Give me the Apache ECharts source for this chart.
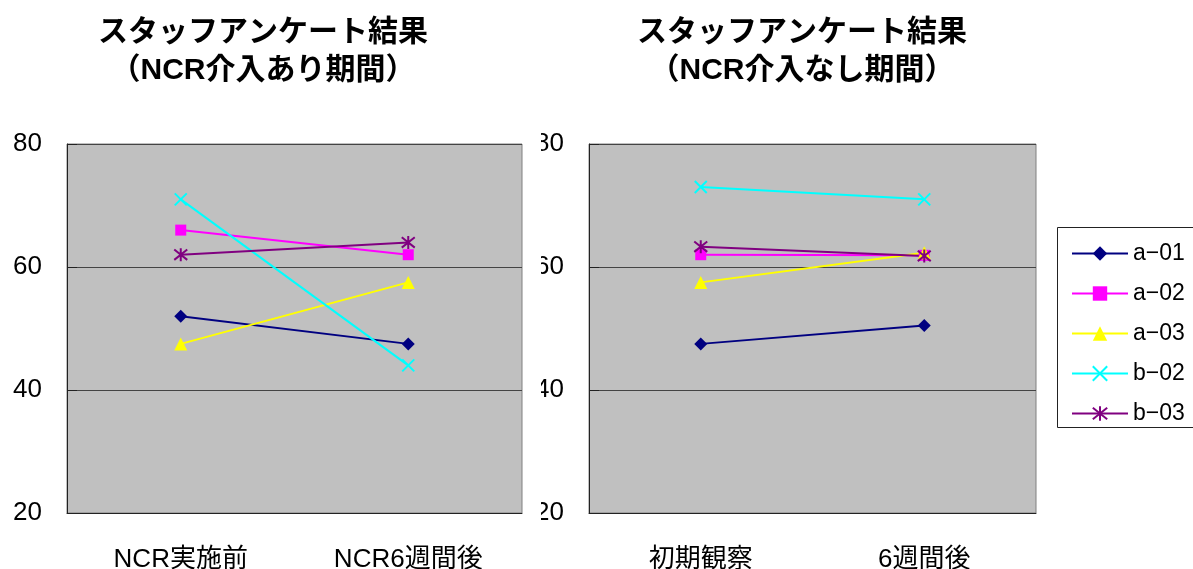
<!DOCTYPE html>
<html>
<head>
<meta charset="utf-8">
<script src="https://cdn.jsdelivr.net/npm/echarts@6/dist/echarts.min.js"></script>
<style>
  html, body { margin: 0; padding: 0; background: #fff; }
  #chart { width: 1193px; height: 569px; }
</style>
</head>
<body>
<div id="chart"></div>
<script>
// Staff survey results: with-NCR period (left) vs. without-NCR period (right)
const titleWith = 'スタッフアンケート結果\n（NCR介入あり期間）';
const titleWithout = 'スタッフアンケート結果\n（NCR介入なし期間）';
const categoriesWith = ['NCR実施前', 'NCR6週間後'];
const categoriesWithout = ['初期観察', '6週間後'];
const staffNames = ['a−01', 'a−02', 'a−03', 'b−02', 'b−03'];
const yTicks = [20, 40, 60, 80];

// Scores, with-NCR period
const withA01 = [52, 47.5];
const withA02 = [66, 62];
const withA03 = [47.5, 57.5];
const withB02 = [71, 44];
const withB03 = [62, 64];

// Scores, without-NCR period
const withoutA01 = [47.5, 50.5];
const withoutA02 = [62, 61.9];
const withoutA03 = [57.5, 62.3];
const withoutB02 = [73, 71];
const withoutB03 = [63.3, 61.8];

const colors = ['#000080', '#FF00FF', '#FFFF00', '#00FFFF', '#800080'];
const symbols = [
  'diamond',
  'rect',
  'triangle',
  'path://M0,0L10,10M0,10L10,0',
  'path://M5,0L5,10M0,1L10,9M0,9L10,1'
];
const symbolSizes = [13, 11, 13, 12, 13];

const fontFamily = '"Liberation Sans", "Noto Sans CJK JP", sans-serif';

function makeSeries(values, idx, gridIdx) {
  const strokeOnly = idx >= 3;
  return {
    name: staffNames[idx],
    type: 'line',
    xAxisIndex: gridIdx,
    yAxisIndex: gridIdx,
    data: values,
    symbol: symbols[idx],
    symbolSize: symbolSizes[idx],
    showAllSymbol: true,
    lineStyle: { color: colors[idx], width: 2 },
    itemStyle: {
      color: colors[idx],
      borderColor: colors[idx],
      borderWidth: strokeOnly ? 2 : 0
    },
    emphasis: { disabled: true },
    animation: false
  };
}

function xAxis(gridIdx, cats) {
  return {
    type: 'category',
    gridIndex: gridIdx,
    data: cats,
    boundaryGap: true,
    axisLine: { lineStyle: { color: '#222', width: 1 } },
    axisTick: { inside: true, length: 10, lineStyle: { color: '#222' } },
    axisLabel: { color: '#000', fontSize: 26, margin: 34, fontFamily: fontFamily }
  };
}

function yAxis(gridIdx) {
  return {
    type: 'value',
    gridIndex: gridIdx,
    min: yTicks[0],
    max: yTicks[yTicks.length - 1],
    interval: yTicks[1] - yTicks[0],
    axisLine: { show: true, lineStyle: { color: '#222', width: 1 } },
    axisTick: { show: true, inside: true, length: 10, lineStyle: { color: '#222' } },
    splitLine: { show: true, lineStyle: { color: '#444', width: 1 } },
    axisLabel: { color: '#000', fontSize: 26, margin: 25, padding: [6, 0, 0, 0], fontFamily: fontFamily }
  };
}

const withSets = [withA01, withA02, withA03, withB02, withB03];
const withoutSets = [withoutA01, withoutA02, withoutA03, withoutB02, withoutB03];

const series = [];
withSets.forEach((v, i) => series.push(makeSeries(v, i, 0)));
withoutSets.forEach((v, i) => series.push(makeSeries(v, i, 1)));

const chart = echarts.init(document.getElementById('chart'), null, { renderer: 'canvas' });

const titleStyle = { fontSize: 30, fontWeight: 'bold', lineHeight: 38, color: '#000', fontFamily: fontFamily };

chart.setOption({
  backgroundColor: '#fff',
  animation: false,
  title: [
    { text: titleWith, left: 258, top: 9, textAlign: 'center', textStyle: titleStyle },
    { text: titleWithout, left: 797, top: 9, textAlign: 'center', textStyle: titleStyle }
  ],
  grid: [
    { left: 67, top: 144, width: 455, height: 369, outerBoundsMode: 'none', show: true, backgroundColor: '#C0C0C0', borderColor: '#808080', borderWidth: 1 },
    { left: 589, top: 144, width: 447, height: 369, outerBoundsMode: 'none', show: true, backgroundColor: '#C0C0C0', borderColor: '#808080', borderWidth: 1 }
  ],
  xAxis: [xAxis(0, categoriesWith), xAxis(1, categoriesWithout)],
  yAxis: [yAxis(0), yAxis(1)],
  legend: {
    data: staffNames,
    orient: 'vertical',
    left: 1066,
    top: 237,
    itemWidth: 56,
    itemHeight: 18,
    itemGap: 17,
    selectedMode: false,
    textStyle: { fontSize: 23, lineHeight: 23, color: '#000', fontFamily: fontFamily }
  },
  graphic: [
    // legend frame
    {
      type: 'rect', z: 0,
      shape: { x: 1057.5, y: 227.5, width: 150, height: 200 },
      style: { fill: '#fff', stroke: '#222', lineWidth: 1 }
    },
    // white strip where the left panel overlaps the right panel's tick labels
    {
      type: 'rect', z: 100,
      shape: { x: 524, y: 125, width: 17, height: 410 },
      style: { fill: '#fff' }
    }
  ],
  series: series
});
</script>
</body>
</html>
